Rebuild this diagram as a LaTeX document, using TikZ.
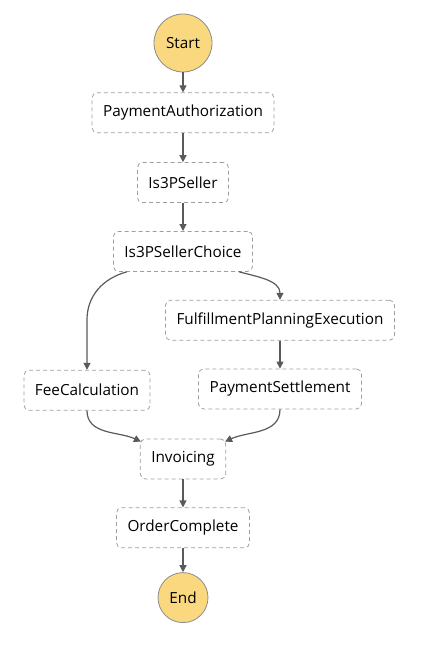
\documentclass[tikz,border=0pt]{standalone}
\usepackage{fontspec}
\setmainfont{Open Sans}
\usepackage{tikz}
\usetikzlibrary{positioning, arrows.meta, calc}

\definecolor{edgegray}{HTML}{5A5A5A}
\definecolor{boxgray}{HTML}{9E9E9E}
\definecolor{termfill}{HTML}{F9D880}
\definecolor{termline}{HTML}{8C8C8C}

\begin{document}
\begin{tikzpicture}[
        x=1pt, y=1pt,
        font=\fontsize{15.3}{18}\selectfont,
        task/.style={draw=boxgray, dash pattern=on 4pt off 3pt, rounded corners=5pt, align=center, minimum height=40pt, inner xsep=11pt, line width=0.8pt},
        term/.style={circle, draw=termline, fill=termfill, line width=0.8pt},
        flow/.style={-{Triangle[length=7pt,width=7pt]}, draw=edgegray, fill=edgegray, line width=1.2pt}
    ]

    \useasboundingbox (0,0) rectangle (428,-652);

    % Start and main column
    \node[term, minimum size=58pt] (start) at (183,-43) {Start};
    \node[task] (payauth) [below=20pt of start] {PaymentAuthorization};
    \node[task] (is3p) [below=29pt of payauth] {Is3PSeller};
    \node[task] (choice) [below=28pt of is3p] {Is3PSellerChoice};

    % Branches
    \node[task] (fpe) [below=28pt of choice, xshift=97pt] {FulfillmentPlanningExecution};
    \node[task] (settle) [below=28pt of fpe] {PaymentSettlement};
    \node[task] (fee) [below=98pt of choice, xshift=-96pt] {FeeCalculation};

    % Join and end
    \node[task] (invoice) [below=28pt of fee, xshift=96pt] {Invoicing};
    \node[task] (order) [below=28pt of invoice] {OrderComplete};
    \node[term, minimum size=50pt] (end) [below=24pt of order] {End};

    % Edges
    \draw [flow] (start) -- (payauth);
    \draw [flow] (payauth) -- (is3p);
    \draw [flow] (is3p) -- (choice);
    \draw [flow, fill=none] ([xshift=14pt]choice.south west) to[out=195,in=90] ($(fee.north)+(0,50pt)$) -- (fee.north);
    \draw [flow, fill=none] ([xshift=-14pt]choice.south east) to[out=-15,in=90] (fpe.north);
    \draw [flow] (fpe) -- (settle);
    \draw [flow, fill=none] (fee.south) to[out=-90,in=155] ([xshift=1pt,yshift=-3pt]invoice.north west);
    \draw [flow, fill=none] (settle.south) to[out=-90,in=25] ([xshift=-1pt,yshift=-3pt]invoice.north east);
    \draw [flow] (invoice) -- (order);
    \draw [flow] (order) -- (end);

\end{tikzpicture}
\end{document}
